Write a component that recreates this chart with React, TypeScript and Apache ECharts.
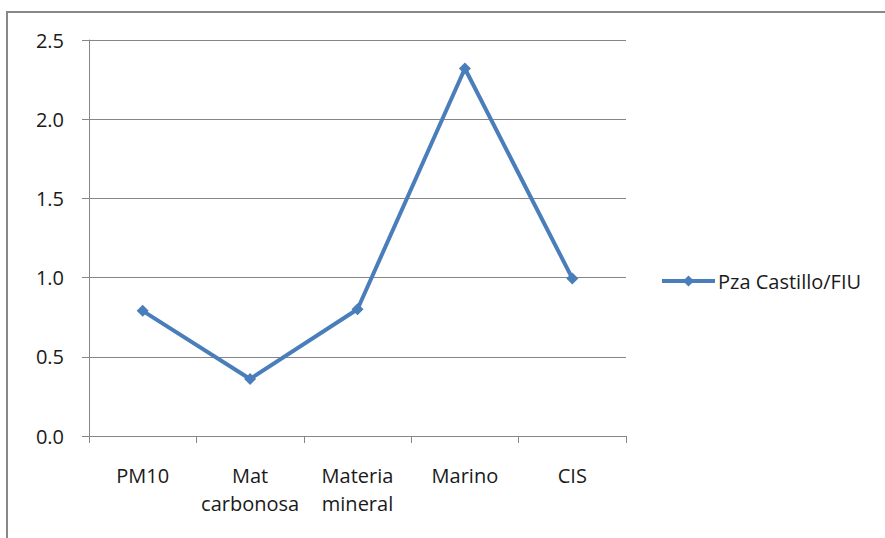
import React, { useEffect, useRef } from "react";
import * as echarts from "echarts";

const categories = ["PM10", "Mat\ncarbonosa", "Materia\nmineral", "Marino", "CIS"];
const seriesName = "Pza Castillo/FIU";
const values = [0.79, 0.36, 0.8, 2.32, 0.995];

export default function App() {
  const ref = useRef<HTMLDivElement>(null);
  useEffect(() => {
    if (!ref.current) return;
    const chart = echarts.init(ref.current, null, { renderer: "svg" });
    const font = "'Open Sans', sans-serif";
    chart.setOption({
      animation: false,
      backgroundColor: "#fff",
      graphic: [
        {
          type: "rect",
          shape: { x: 7, y: 12, width: 900, height: 600 },
          style: { fill: "none", stroke: "#888888", lineWidth: 2 },
        },
      ],
      grid: { left: 89, right: 259, top: 40, bottom: 102, containLabel: false },
      legend: {
        orient: "vertical",
        left: 655,
        top: 266,
        itemWidth: 53,
        itemHeight: 14,
        lineStyle: { width: 4, color: "#4A7EBB" },
        itemStyle: { color: "#4A7EBB" },
        textStyle: { fontFamily: font, fontSize: 20, color: "#1a1a1a", padding: [0, 0, 0, -2] },
        data: [{ name: seriesName }],
      },
      xAxis: {
        type: "category",
        data: categories,
        boundaryGap: true,
        axisLine: { lineStyle: { color: "#868686", width: 1 } },
        axisTick: { show: true, length: 7, inside: false, lineStyle: { color: "#868686" } },
        axisLabel: {
          interval: 0,
          fontFamily: font,
          fontSize: 20,
          color: "#1a1a1a",
          margin: 25,
          lineHeight: 28,
          align: "center",
        },
      },
      yAxis: {
        type: "value",
        min: 0,
        max: 2.5,
        interval: 0.5,
        axisLine: { show: true, lineStyle: { color: "#868686", width: 1 } },
        axisTick: { show: true, length: 7, lineStyle: { color: "#868686" } },
        splitLine: { show: true, lineStyle: { color: "#868686", width: 1 } },
        axisLabel: {
          fontFamily: font,
          fontSize: 20,
          color: "#1a1a1a",
          margin: 25,
          formatter: (v: number) => v.toFixed(1),
        },
      },
      series: [
        {
          name: seriesName,
          type: "line",
          data: values,
          symbol: "diamond",
          symbolSize: 12,
          lineStyle: { color: "#4A7EBB", width: 4 },
          itemStyle: { color: "#4A7EBB" },
        },
      ],
    });
    return () => chart.dispose();
  }, []);
  return (
    <div
      ref={ref}
      style={{ position: "fixed", left: 0, top: 0, width: 885, height: 538 }}
    />
  );
}
